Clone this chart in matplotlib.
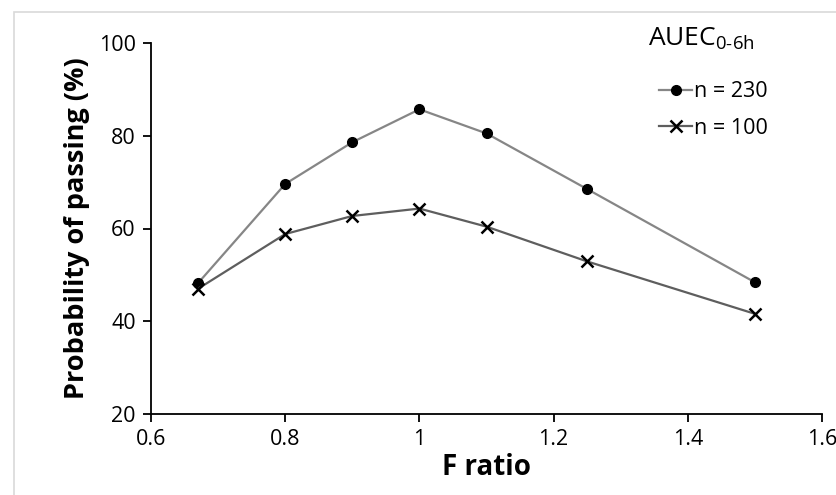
import matplotlib
matplotlib.use("Agg")
import matplotlib.pyplot as plt
from matplotlib.lines import Line2D
from matplotlib.patches import Rectangle
from matplotlib.font_manager import FontProperties

# ---- data ----
f_ratio = [0.67, 0.8, 0.9, 1.0, 1.1, 1.25, 1.5]
p_n230 = [48.2, 69.6, 78.6, 85.7, 80.5, 68.5, 48.4]
p_n100 = [47.0, 58.8, 62.7, 64.3, 60.4, 52.9, 41.6]
series_labels = ["n = 230", "n = 100"]
legend_title = "AUEC"
legend_sub = "0-6h"
xlabel = "F ratio"
ylabel = "Probability of passing (%)"
xticks = [0.6, 0.8, 1.0, 1.2, 1.4, 1.6]
xticklabels = ["0.6", "0.8", "1", "1.2", "1.4", "1.6"]
yticks = [20, 40, 60, 80, 100]

plt.rcParams["font.family"] = ["Open Sans", "DejaVu Sans"]
plt.rcParams["mathtext.fontset"] = "custom"
plt.rcParams["mathtext.rm"] = "Open Sans"
plt.rcParams["mathtext.default"] = "regular"

tick_fp = FontProperties(family="Open Sans", size=15.5)
leg_fp = FontProperties(family="Open Sans", size=15.5)

fig = plt.figure(figsize=(8.36, 4.95), dpi=100)
ax = fig.add_axes([151/836, 1-414/495, (822-151)/836, (414-43)/495])

# figure border (light grey)
fig.add_artist(Rectangle((14/836, -0.1), 1.1, 1.1 - 12/495, transform=fig.transFigure,
                         fill=False, edgecolor="#d9d9d9", linewidth=1.2))

ax.plot(f_ratio, p_n230, color="#868686", lw=1.6, marker="o", ms=7,
        mfc="black", mec="black", zorder=3)
ax.plot(f_ratio, p_n100, color="#5e5e5e", lw=1.6, marker="x", ms=9,
        mew=1.8, mec="black", zorder=3)

ax.set_xlim(0.6, 1.6)
ax.set_ylim(20, 100)
ax.set_xticks(xticks)
ax.set_xticklabels(xticklabels)
ax.set_yticks(yticks)
for s in ["top", "right"]:
    ax.spines[s].set_visible(False)
for s in ["left", "bottom"]:
    ax.spines[s].set_color("black")
    ax.spines[s].set_linewidth(1.3)
ax.tick_params(direction="out", length=6, width=1.3, colors="black", pad=5)
for lab in ax.get_xticklabels() + ax.get_yticklabels():
    lab.set_fontproperties(tick_fp)

ax.set_xlabel(xlabel, fontsize=20, fontweight="bold", family="Open Sans", labelpad=2)
ax.set_ylabel(ylabel, fontsize=19.5, fontweight="bold", family="Open Sans", labelpad=6)

# legend
fig.text(648/836, 1-46/495, legend_title + "$_{" + legend_sub.replace("-", "\u2010") + "}$",
         fontsize=19, family="Open Sans", va="baseline", ha="left")
handles = [Line2D([], [], color="#868686", lw=1.6, marker="o", ms=7, mfc="black", mec="black"),
           Line2D([], [], color="#5e5e5e", lw=1.6, marker="x", ms=9, mew=1.8, mec="black")]
leg = fig.legend(handles, series_labels, loc="upper left",
                 bbox_to_anchor=(640/836, 1-62/495), frameon=False,
                 handlelength=1.5, handletextpad=0.1, labelspacing=0.72,
                 prop=leg_fp)

fig.savefig("out.png", dpi=100, facecolor="white")
